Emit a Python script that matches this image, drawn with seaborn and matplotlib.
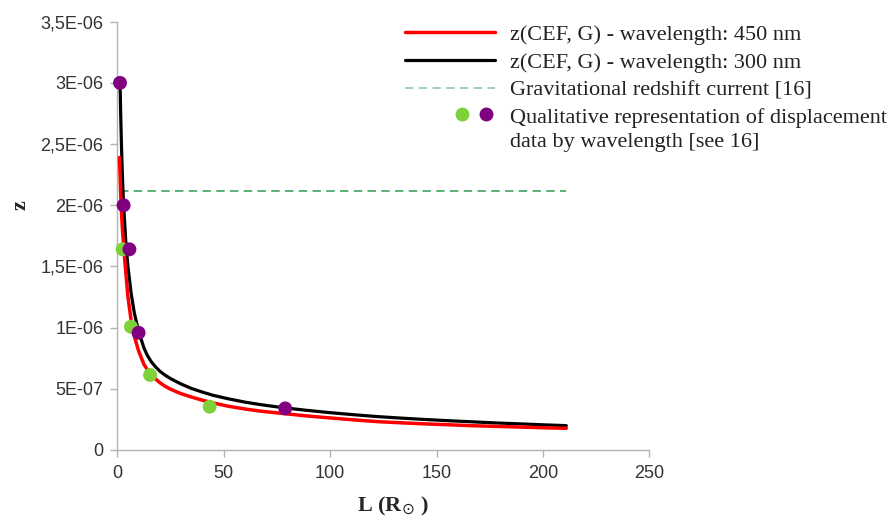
import matplotlib
matplotlib.use("Agg")
import matplotlib.pyplot as plt
import seaborn as sns
from matplotlib.lines import Line2D
from matplotlib.legend_handler import HandlerBase
from matplotlib.ticker import FixedLocator, FixedFormatter

# ---------------- data ----------------
L_black = [1.3, 1.6, 2.0, 2.5, 3.0, 4.0, 5.0, 6.5, 8.0, 10, 12.5, 14, 16, 18,
           20, 22.5, 25, 27.5, 30, 35, 40, 45, 52, 60, 68, 77, 88, 100, 112,
           123, 135, 145, 156, 166, 178, 190, 200, 211]
z_black = [3.00e-6, 2.74e-6, 2.46e-6, 2.19e-6, 1.99e-6, 1.70e-6, 1.50e-6,
           1.28e-6, 1.12e-6, 0.97e-6, 0.835e-6, 0.777e-6, 0.72e-6, 0.679e-6,
           0.644e-6, 0.611e-6, 0.584e-6, 0.561e-6, 0.539e-6, 0.502e-6,
           0.473e-6, 0.447e-6, 0.419e-6, 0.391e-6, 0.369e-6, 0.348e-6,
           0.326e-6, 0.305e-6, 0.287e-6, 0.272e-6, 0.259e-6, 0.249e-6,
           0.239e-6, 0.231e-6, 0.221e-6, 0.213e-6, 0.206e-6, 0.199e-6]

L_red = [1.0, 1.3, 1.6, 2.0, 2.5, 3.0, 4.0, 5.0, 6.5, 8.0, 10, 12.5, 14, 16,
         18, 20, 22.5, 25, 27.5, 30, 35, 40, 45, 52, 60, 68, 77, 88, 100, 112,
         123, 135, 145, 156, 166, 178, 190, 200, 211]
z_red = [2.39e-6, 2.25e-6, 2.10e-6, 1.93e-6, 1.78e-6, 1.66e-6, 1.45e-6,
         1.25e-6, 1.06e-6, 0.93e-6, 0.81e-6, 0.70e-6, 0.66e-6, 0.615e-6,
         0.58e-6, 0.55e-6, 0.52e-6, 0.497e-6, 0.478e-6, 0.46e-6, 0.432e-6,
         0.407e-6, 0.385e-6, 0.358e-6, 0.335e-6, 0.316e-6, 0.30e-6,
         0.28e-6, 0.262e-6, 0.245e-6, 0.231e-6, 0.221e-6, 0.213e-6,
         0.206e-6, 0.199e-6, 0.193e-6, 0.187e-6, 0.182e-6, 0.177e-6]

grav_L = [1.4, 211.0]
grav_z = [2.12e-6, 2.12e-6]

green_L = [2.5, 6.4, 15.4, 43.4]
green_z = [1.64e-6, 1.007e-6, 0.613e-6, 0.354e-6]

purple_L = [1.27, 2.96, 5.7, 10.0, 78.9]
purple_z = [3.0e-6, 2.0e-6, 1.64e-6, 0.958e-6, 0.34e-6]

x_ticks = [0, 50, 100, 150, 200, 250]
y_ticks = [0, 0.5e-6, 1.0e-6, 1.5e-6, 2.0e-6, 2.5e-6, 3.0e-6, 3.5e-6]
y_tick_labels = ["0", "5E-07", "1E-06", "1,5E-06", "2E-06", "2,5E-06",
                 "3E-06", "3,5E-06"]

legend_labels = [
    "z(CEF, G) - wavelength: 450 nm",
    "z(CEF, G) - wavelength: 300 nm",
    "Gravitational redshift current [16]",
    "Qualitative representation of displacement\ndata by wavelength [see 16]",
]

# ---------------- style ----------------
RED = "#ff0000"
BLACK = "#000000"
GREEN_DASH = "#2e9e50"
GREEN_DOT = "#7fd13b"
PURPLE = "#800080"
SPINE = "#b3b3b3"
TICKTXT = "#333333"

sns.set_theme(style="white")
plt.rcParams["font.family"] = ["Liberation Sans", "DejaVu Sans"]

fig = plt.figure(figsize=(8.92, 5.22), dpi=100)
ax = fig.add_axes([117.3 / 892, 1 - 450 / 522, (649.3 - 117.3) / 892, (450 - 21.7) / 522])

sns.lineplot(x=grav_L, y=grav_z, ax=ax, color=GREEN_DASH, lw=1.1,
             dashes=False, estimator=None, sort=False, zorder=2)
ax.lines[-1].set_dashes((5.5, 3.5))
sns.lineplot(x=L_black, y=z_black, ax=ax, color=BLACK, lw=2.3,
             estimator=None, sort=False, zorder=3)
sns.lineplot(x=L_red, y=z_red, ax=ax, color=RED, lw=2.5,
             estimator=None, sort=False, zorder=4)
sns.scatterplot(x=green_L, y=green_z, ax=ax, color=GREEN_DOT, s=100,
                edgecolor="none", zorder=5, clip_on=False)
sns.scatterplot(x=purple_L, y=purple_z, ax=ax, color=PURPLE, s=100,
                edgecolor="none", zorder=6, clip_on=False)

ax.set_xlim(0, 250)
ax.set_ylim(0, 3.5e-6)
ax.xaxis.set_major_locator(FixedLocator(x_ticks))
ax.yaxis.set_major_locator(FixedLocator(y_ticks))
ax.yaxis.set_major_formatter(FixedFormatter(y_tick_labels))

for s in ["top", "right"]:
    ax.spines[s].set_visible(False)
for s in ["left", "bottom"]:
    ax.spines[s].set_color(SPINE)
    ax.spines[s].set_linewidth(1.0)

ax.tick_params(axis="both", which="major", direction="out", length=5,
               width=1.0, color=SPINE, labelcolor=TICKTXT, labelsize=13,
               left=True, bottom=True)
ax.tick_params(axis="y", pad=5)
ax.tick_params(axis="x", pad=6)

lab_font = dict(family=["Liberation Serif", "DejaVu Serif"], weight="bold", size=16)
ax.set_ylabel("z", **lab_font)
ax.set_xlabel(r"L (R$_{\odot}$ )", **lab_font)
ax.yaxis.set_label_coords(-0.163, 0.572)
ax.xaxis.set_label_coords(0.518, -0.106)


class TwoDots(HandlerBase):
    def create_artists(self, legend, orig_handle, xdescent, ydescent,
                       width, height, fontsize, trans):
        y = height / 2 - ydescent + 0.68 * fontsize
        a = Line2D([width * 0.63 - xdescent], [y], marker="o", ms=10,
                   color=GREEN_DOT, ls="none", mec="none", transform=trans)
        b = Line2D([width * 0.90 - xdescent], [y], marker="o", ms=10,
                   color=PURPLE, ls="none", mec="none", transform=trans)
        return [a, b]


h_red = Line2D([], [], color=RED, lw=2.5)
h_black = Line2D([], [], color=BLACK, lw=2.3)
h_grav = Line2D([], [], color="#7fc99a", lw=1.1, dashes=(5.5, 3.5))
h_dots = Line2D([], [], color=PURPLE)

leg = ax.legend([h_red, h_black, h_grav, h_dots], legend_labels,
                handler_map={h_dots: TwoDots()},
                loc="upper left", bbox_to_anchor=(405 / 892, 1 - 24 / 522),
                bbox_transform=fig.transFigure, frameon=False,
                prop=dict(family=["Liberation Serif", "DejaVu Serif"], size=16),
                handlelength=4.05, handletextpad=0.68, labelspacing=0.34,
                borderpad=0, borderaxespad=0)
for t in leg.get_texts():
    t.set_color("#222222")
    t.set_linespacing(1.35)

fig.savefig("out.png", dpi=100)
